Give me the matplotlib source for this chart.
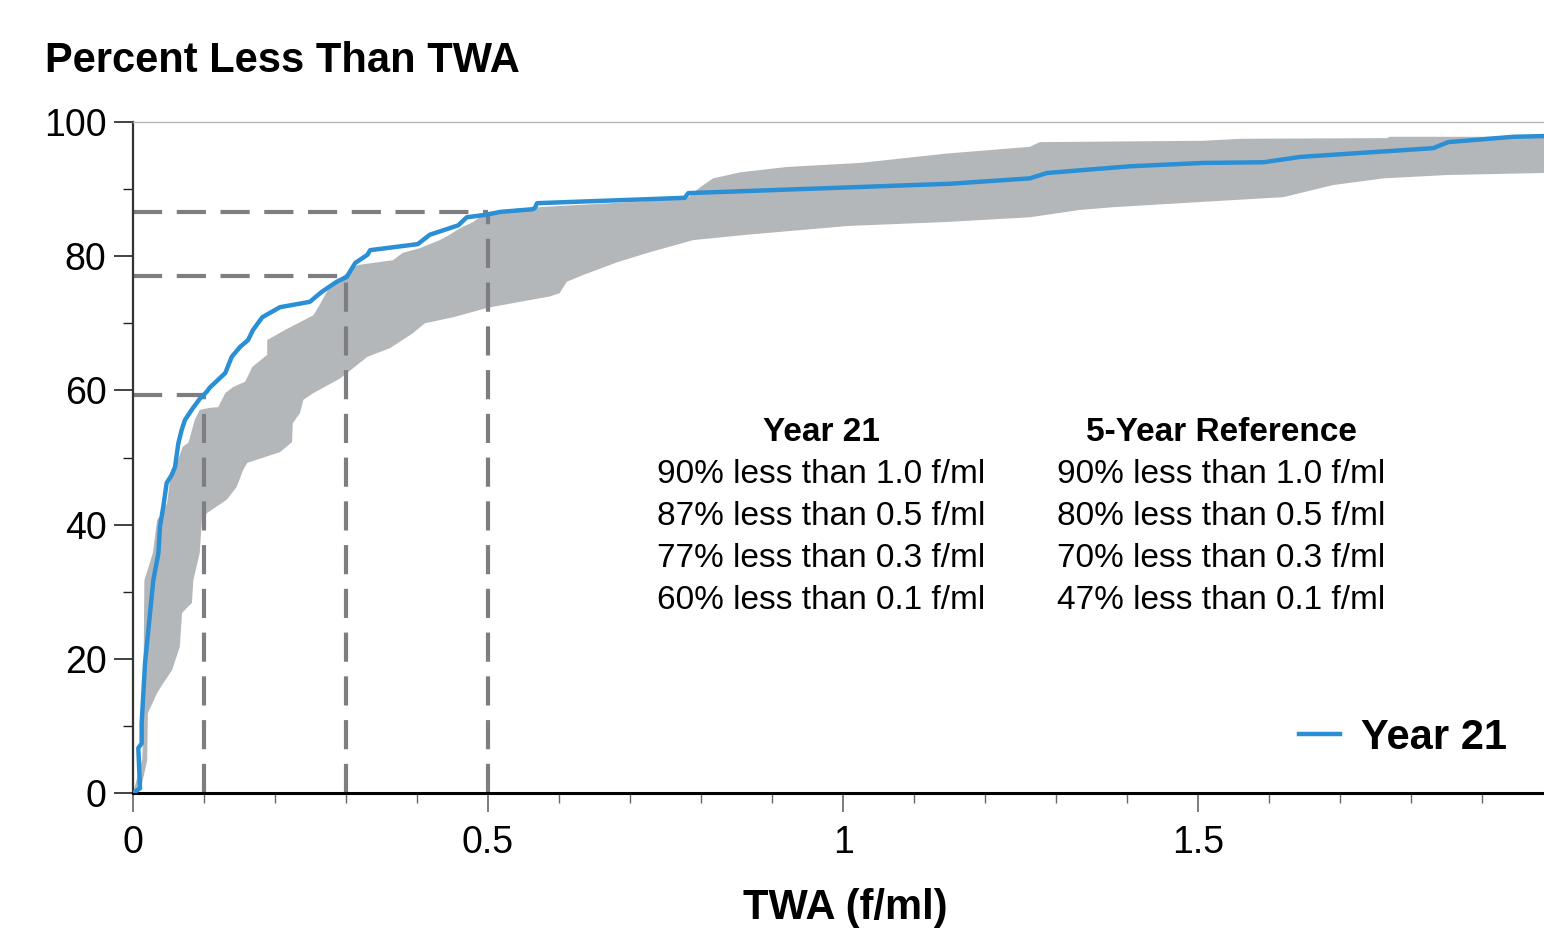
import numpy as np
import matplotlib
matplotlib.use("Agg")
import matplotlib.pyplot as plt
from matplotlib.ticker import MultipleLocator

plt.rcParams['font.family'] = ['Liberation Sans', 'DejaVu Sans']

# Year 21 cumulative curve (TWA f/ml, percent less than)
year21_x = [0, 0.0099, 0.0075, 0.0122, 0.0122, 0.0169, 0.023, 0.0286, 0.0357, 0.038,
            0.0427, 0.0474, 0.0545, 0.0592, 0.0638, 0.0685, 0.0732, 0.0826, 0.0944, 0.1038,
            0.108, 0.130, 0.139, 0.151, 0.162, 0.169, 0.182, 0.207, 0.249, 0.266,
            0.287, 0.301, 0.313, 0.330, 0.334, 0.401, 0.418, 0.458, 0.470, 0.499,
            0.517, 0.563, 0.566, 0.569, 0.777, 0.782, 1.151, 1.263, 1.287, 1.404,
            1.507, 1.592, 1.644, 1.831, 1.852, 1.944, 1.987]
year21_y = [0, 0.7, 6.7, 7.4, 10.4, 19.3, 25.8, 31.7, 35.7, 39.7,
            42.7, 46.2, 47.4, 48.6, 52.1, 54.1, 55.6, 57.1, 58.8, 59.8,
            60.4, 62.6, 65.0, 66.5, 67.5, 69.0, 70.9, 72.4, 73.2, 74.7,
            76.2, 76.9, 79.0, 80.2, 80.9, 81.8, 83.2, 84.6, 85.8, 86.2,
            86.6, 87.0, 87.2, 87.9, 88.7, 89.4, 90.8, 91.6, 92.4, 93.4,
            93.9, 94.0, 94.8, 96.1, 97.0, 97.8, 97.9]

# 5-year reference envelope
ref_upper_x = [0, 0.013, 0.014, 0.016, 0.024, 0.028, 0.034, 0.041, 0.048, 0.052,
               0.062, 0.070, 0.078, 0.087, 0.094, 0.108, 0.120, 0.130, 0.141, 0.158,
               0.168, 0.189, 0.189, 0.214, 0.254, 0.261, 0.273, 0.289, 0.310, 0.317,
               0.366, 0.380, 0.404, 0.432, 0.446, 0.461, 0.479, 0.499, 0.541, 0.587,
               0.690, 0.780, 0.799, 0.817, 0.855, 0.921, 1.024, 1.146, 1.263, 1.277,
               1.507, 1.560, 1.766, 1.770, 1.987]
ref_upper_y = [0, 5.0, 8.0, 31.7, 34.4, 35.8, 40.7, 41.7, 43.2, 46.6,
               49.2, 51.6, 52.2, 55.6, 57.1, 57.4, 57.5, 59.6, 60.5, 61.3,
               63.5, 65.3, 67.5, 69.0, 71.2, 72.4, 74.7, 76.5, 78.2, 78.7,
               79.4, 80.5, 81.2, 82.4, 83.2, 84.2, 85.1, 86.6, 87.1, 87.4,
               88.0, 88.6, 90.3, 91.6, 92.5, 93.3, 93.9, 95.3, 96.3, 97.0,
               97.2, 97.5, 97.6, 97.8, 97.8]
ref_lower_x = [0, 0.012, 0.020, 0.021, 0.034, 0.041, 0.055, 0.066, 0.069, 0.076,
               0.083, 0.085, 0.094, 0.097, 0.104, 0.132, 0.146, 0.155, 0.161, 0.207,
               0.224, 0.225, 0.235, 0.240, 0.254, 0.287, 0.292, 0.330, 0.362, 0.394,
               0.411, 0.451, 0.499, 0.545, 0.587, 0.601, 0.611, 0.634, 0.682, 0.728,
               0.789, 0.865, 1.006, 1.146, 1.263, 1.334, 1.380, 1.507, 1.620, 1.690,
               1.761, 1.851, 1.987]
ref_lower_y = [0, 1.0, 4.9, 11.9, 14.9, 16.1, 18.3, 21.8, 26.8, 27.6,
               28.3, 31.7, 35.8, 40.7, 41.7, 43.7, 45.6, 48.1, 49.2, 50.8,
               52.3, 55.1, 56.6, 58.6, 59.6, 61.5, 61.8, 65.0, 66.3, 68.5,
               70.0, 70.9, 72.3, 73.2, 74.0, 74.5, 76.2, 77.2, 79.1, 80.6,
               82.4, 83.2, 84.5, 85.1, 85.8, 86.9, 87.3, 88.1, 88.8, 90.6,
               91.6, 92.1, 92.4]

# reference read-offs for Year 21
guide_twa = [0.1, 0.3, 0.5]
guide_pct = [59.3, 77.0, 86.6]

col_titles = ['Year 21', '5-Year Reference']
year21_lines = ['90% less than 1.0 f/ml', '87% less than 0.5 f/ml',
                '77% less than 0.3 f/ml', '60% less than 0.1 f/ml']
ref_lines = ['90% less than 1.0 f/ml', '80% less than 0.5 f/ml',
             '70% less than 0.3 f/ml', '47% less than 0.1 f/ml']

fig = plt.figure(figsize=(15.44, 9.42), dpi=100)
ax = fig.add_axes([133 / 1544, 1 - 793 / 942, 1 - 133 / 1544, 671 / 942])

# envelope polygon
band_x = np.concatenate([ref_upper_x, ref_lower_x[::-1]])
band_y = np.concatenate([ref_upper_y, ref_lower_y[::-1]])
ax.fill(band_x, band_y, color='#b4b7ba', lw=0, zorder=1)

for gx, gy in zip(guide_twa, guide_pct):
    ax.plot([0, gx], [gy, gy], color='#7d7d82', lw=3, dashes=(7, 3.5), zorder=2,
            dash_capstyle='butt')
    ax.plot([gx, gx], [0, gy], color='#7d7d82', lw=3, dashes=(7, 3.5), zorder=2,
            dash_capstyle='butt')

ax.plot(year21_x, year21_y, color='#2a8fd5', lw=3.2, zorder=3, label='Year 21')

ax.set_xlim(0, 1.987)
ax.set_ylim(0, 100)
ax.set_xticks([0, 0.5, 1, 1.5])
ax.set_xticklabels(['0', '0.5', '1', '1.5'])
ax.xaxis.set_minor_locator(MultipleLocator(0.1))
ax.set_yticks([0, 20, 40, 60, 80, 100])
ax.yaxis.set_minor_locator(MultipleLocator(10))

ax.tick_params(axis='y', which='major', length=14, width=1.2, color='#222222',
               labelsize=27, pad=5)
ax.tick_params(axis='y', which='minor', length=7, width=1.0, color='#222222')
ax.tick_params(axis='x', which='major', length=14, width=1.2, color='#666666',
               labelsize=27, pad=9)
ax.tick_params(axis='x', which='minor', length=7, width=1.0, color='#666666')

ax.spines['right'].set_visible(False)
ax.spines['top'].set_color('#b5b5b5')
ax.spines['top'].set_linewidth(1)
ax.spines['left'].set_color('#333333')
ax.spines['left'].set_linewidth(1.6)
ax.spines['bottom'].set_color('black')
ax.spines['bottom'].set_linewidth(2.2)

fig.text(845 / 1544, 1 - 908 / 942, 'TWA (f/ml)', fontsize=30, fontweight='bold',
         ha='center', va='center')
fig.text(45 / 1544, 1 - 72 / 942, 'Percent Less Than TWA', fontsize=30,
         fontweight='bold', ha='left', va='baseline')

# summary table
col_x = [0.4876, 0.7711]
row_y = [0.5380, 0.4754, 0.4128, 0.3502, 0.2876]
for cx, title, lines in zip(col_x, col_titles, [year21_lines, ref_lines]):
    ax.text(cx, row_y[0], title, transform=ax.transAxes, fontsize=24,
            fontweight='bold', ha='center', va='center')
    for ry, line in zip(row_y[1:], lines):
        ax.text(cx, ry, line, transform=ax.transAxes, fontsize=24,
                ha='center', va='center')

leg = ax.legend(loc='center right', bbox_to_anchor=(0.974, 0.082), frameon=False,
                prop={'size': 30, 'weight': 'bold'}, handlelength=1.0,
                handletextpad=0.5, borderaxespad=0, borderpad=0)

fig.savefig('out.png', dpi=100)
